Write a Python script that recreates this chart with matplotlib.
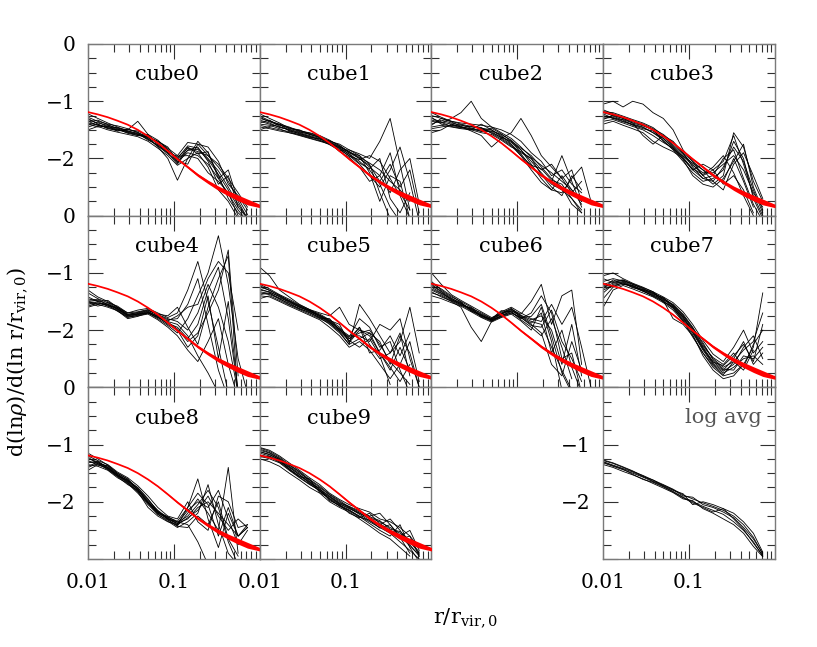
import numpy as np
import matplotlib
matplotlib.use('Agg')
import matplotlib.pyplot as plt
from matplotlib.ticker import MultipleLocator, LogLocator, NullFormatter

plt.rcParams['font.family'] = ['DejaVu Serif']
plt.rcParams['mathtext.fontset'] = 'dejavuserif'

N = None  # curve ends before this radius

R = [0.010, 0.013, 0.017, 0.022, 0.029, 0.038, 0.050, 0.065, 0.085,
     0.11, 0.145, 0.19, 0.25, 0.33, 0.43, 0.56, 0.72]

# reference (red) model slope and the half-width of its spread
RED_R = R + [1.0]
RED_SLOPE = [-1.19, -1.23, -1.28, -1.34, -1.41, -1.50, -1.61, -1.73, -1.87,
             -2.01, -2.15, -2.29, -2.41, -2.52, -2.61, -2.69, -2.76, -2.83]
RED_HALF = [0.0, 0.0, 0.0, 0.0, 0.0, 0.0, 0.004, 0.008, 0.012,
            0.016, 0.02, 0.025, 0.03, 0.038, 0.045, 0.05, 0.05, 0.03]

CUBE0 = [
    [-1.32, -1.38, -1.42, -1.47, -1.50, -1.52, -1.60, -1.72, -1.85, -2.00, -1.78, -1.82, -2.00, -2.22, -2.50, -2.80, -3.05],
    [-1.45, -1.40, -1.48, -1.50, -1.55, -1.58, -1.66, -1.78, -1.92, -2.05, -1.90, -1.95, -2.10, -2.35, -2.62, -2.90, -3.10],
    [-1.28, -1.35, -1.40, -1.43, -1.48, -1.55, -1.62, -1.70, -1.82, -1.95, -1.72, -1.75, -1.95, -2.15, -2.40, -2.70, -2.98],
    [-1.40, -1.45, -1.43, -1.52, -1.50, -1.35, -1.58, -1.75, -1.90, -2.10, -1.85, -1.80, -2.05, -2.45, -2.30, -2.85, N],
    [-1.35, -1.42, -1.46, -1.50, -1.53, -1.58, -1.63, -1.80, -2.00, -2.38, -2.00, -1.70, -1.90, -2.30, -2.70, -2.95, -3.10],
    [-1.22, -1.30, -1.38, -1.45, -1.52, -1.56, -1.68, -1.76, -1.88, -1.98, -1.82, -1.88, -1.95, -2.10, -2.35, -2.60, -2.85],
    [-1.50, -1.44, -1.50, -1.54, -1.58, -1.62, -1.70, -1.82, -1.95, -2.12, -2.00, -1.90, -2.15, -2.55, -2.75, -3.05, N],
    [-1.38, -1.42, -1.44, -1.49, -1.52, -1.57, -1.64, -1.74, -1.86, -2.02, -1.86, -1.84, -2.02, -2.28, -2.55, -2.85, -3.05],
    [-1.42, -1.36, -1.45, -1.46, -1.54, -1.60, -1.62, -1.70, -1.80, -2.05, -2.10, -1.75, -1.80, -2.05, -2.45, -2.65, -2.90],
    [-1.30, -1.40, -1.47, -1.52, -1.49, -1.54, -1.66, -1.78, -1.90, -1.96, -1.95, -2.00, -2.25, -2.40, -2.60, -3.00, N],
    [-1.36, -1.33, -1.41, -1.48, -1.56, -1.60, -1.58, -1.68, -1.84, -2.08, -1.80, -1.92, -1.88, -2.35, -2.20, -2.75, -3.05],
]
CUBE1 = [
    [-1.30, -1.35, -1.40, -1.45, -1.52, -1.55, -1.60, -1.68, -1.78, -1.88, -1.98, -2.08, -2.20, -2.40, -2.55, -2.75, N],
    [-1.40, -1.42, -1.48, -1.55, -1.58, -1.63, -1.66, -1.72, -1.82, -1.92, -2.05, -2.20, -2.45, -2.85, -3.10, N, N],
    [-1.22, -1.30, -1.38, -1.47, -1.50, -1.58, -1.62, -1.70, -1.75, -1.85, -1.92, -2.00, -1.70, -1.30, -2.10, -2.90, N],
    [-1.45, -1.48, -1.52, -1.55, -1.60, -1.65, -1.70, -1.75, -1.85, -1.95, -2.10, -2.30, -2.50, -2.20, -1.80, -2.40, -3.10],
    [-1.35, -1.40, -1.45, -1.50, -1.55, -1.60, -1.65, -1.72, -1.80, -1.88, -2.00, -2.15, -2.30, -2.60, -2.20, -2.00, -2.80],
    [-1.28, -1.36, -1.42, -1.46, -1.53, -1.58, -1.63, -1.71, -1.79, -1.90, -1.95, -2.10, -2.60, -3.05, N, N, N],
    [-1.50, -1.44, -1.40, -1.52, -1.56, -1.62, -1.66, -1.74, -1.83, -1.96, -2.02, -1.95, -2.05, -2.35, -2.65, -3.05, N],
    [-1.33, -1.38, -1.46, -1.49, -1.54, -1.57, -1.64, -1.69, -1.77, -1.90, -2.00, -2.12, -2.40, -2.10, -2.50, -2.20, -2.95],
    [-1.38, -1.33, -1.44, -1.51, -1.57, -1.61, -1.68, -1.76, -1.86, -1.85, -1.95, -2.25, -2.75, -2.30, -2.40, -3.05, N],
    [-1.26, -1.34, -1.41, -1.48, -1.51, -1.56, -1.61, -1.74, -1.81, -1.93, -2.08, -2.18, -2.00, -2.70, -2.95, -2.60, N],
    [-1.42, -1.46, -1.50, -1.53, -1.59, -1.64, -1.69, -1.73, -1.88, -1.98, -2.15, -2.40, -2.30, -1.90, -2.60, -2.90, N],
]
CUBE2 = [
    [-1.25, -1.30, -1.35, -1.38, -1.40, -1.42, -1.45, -1.55, -1.65, -1.80, -1.98, -2.12, -2.25, -2.40, -2.55, -2.80, N],
    [-1.45, -1.42, -1.45, -1.48, -1.50, -1.40, -1.50, -1.62, -1.72, -1.85, -2.05, -2.25, -2.45, -2.55, -2.70, -2.90, N],
    [-1.35, -1.38, -1.30, -1.20, -1.00, -1.30, -1.45, -1.50, -1.58, -1.70, -1.90, -2.05, -2.30, -2.20, -2.45, -2.60, N],
    [-1.55, -1.50, -1.40, -1.45, -1.52, -1.60, -1.80, -1.65, -1.55, -1.30, -1.60, -1.95, -2.15, -2.35, -2.20, -2.75, N],
    [-1.30, -1.36, -1.40, -1.45, -1.48, -1.50, -1.52, -1.58, -1.68, -1.85, -2.10, -2.35, -2.55, -2.60, -2.35, -2.15, -2.75],
    [-1.40, -1.33, -1.38, -1.42, -1.45, -1.47, -1.50, -1.60, -1.75, -1.92, -2.15, -2.30, -2.40, -1.95, -2.40, -2.85, N],
    [-1.20, -1.28, -1.35, -1.40, -1.44, -1.48, -1.55, -1.63, -1.70, -1.82, -1.95, -2.15, -2.35, -2.50, -2.80, -2.95, N],
    [-1.48, -1.45, -1.42, -1.46, -1.50, -1.55, -1.58, -1.68, -1.80, -1.88, -2.00, -2.20, -2.10, -2.35, -2.60, -2.40, N],
    [-1.33, -1.37, -1.44, -1.47, -1.43, -1.46, -1.56, -1.66, -1.78, -1.95, -2.20, -2.42, -2.55, -2.30, -2.55, -2.75, N],
    [-1.42, -1.30, -1.36, -1.44, -1.49, -1.52, -1.47, -1.57, -1.70, -1.90, -2.00, -2.28, -2.50, -2.65, -2.30, -2.55, N],
    [-1.28, -1.40, -1.43, -1.41, -1.47, -1.53, -1.53, -1.64, -1.76, -1.95, -2.12, -2.18, -2.38, -2.45, -2.70, -2.95, N],
]
CUBE3 = [
    [-1.20, -1.25, -1.30, -1.36, -1.42, -1.50, -1.62, -1.78, -1.95, -2.12, -2.25, -2.25, -2.10, -1.95, -2.20, -2.60, -2.85],
    [-1.30, -1.28, -1.35, -1.40, -1.45, -1.55, -1.68, -1.85, -2.05, -2.25, -2.40, -2.35, -2.20, -1.70, -2.00, -2.70, -3.05],
    [-1.05, -1.00, -1.10, -1.00, -1.05, -1.20, -1.30, -1.50, -1.85, -2.05, -2.30, -2.45, -2.30, -1.55, -1.80, -2.40, -2.75],
    [-1.40, -1.35, -1.42, -1.48, -1.55, -1.70, -1.80, -1.88, -2.00, -2.20, -2.10, -2.20, -2.45, -2.30, -2.55, -2.95, N],
    [-1.25, -1.30, -1.32, -1.38, -1.60, -1.75, -1.60, -1.70, -1.90, -2.05, -2.20, -2.40, -2.55, -2.10, -1.90, -2.30, -2.70],
    [-1.15, -1.22, -1.28, -1.34, -1.40, -1.48, -1.58, -1.72, -1.90, -2.15, -2.35, -2.30, -2.00, -1.85, -2.35, -2.80, -3.10],
    [-1.35, -1.32, -1.38, -1.44, -1.50, -1.60, -1.72, -1.82, -2.02, -2.30, -2.45, -2.50, -2.35, -2.05, -1.75, -2.50, -2.90],
    [-1.28, -1.26, -1.33, -1.42, -1.48, -1.52, -1.65, -1.80, -1.98, -2.18, -2.28, -2.15, -1.95, -2.25, -2.65, -3.00, N],
    [-1.22, -1.30, -1.36, -1.41, -1.46, -1.55, -1.65, -1.82, -2.00, -2.20, -2.35, -2.40, -2.15, -1.80, -2.05, -2.55, -2.95],
    [-1.32, -1.24, -1.30, -1.38, -1.43, -1.50, -1.70, -1.84, -1.96, -2.08, -2.20, -2.30, -2.40, -2.00, -2.40, -2.85, N],
    [-1.18, -1.20, -1.26, -1.32, -1.38, -1.46, -1.60, -1.76, -1.92, -2.10, -2.30, -2.20, -2.05, -1.60, -2.10, -2.65, -3.00],
]
CUBE4 = [
    [-1.50, -1.48, -1.55, -1.62, -1.75, -1.72, -1.68, -1.75, -1.85, -1.90, -2.10, -2.45, -2.75, -3.10, N, N, N],
    [-1.35, -1.45, -1.52, -1.58, -1.70, -1.65, -1.62, -1.70, -1.78, -1.70, -1.30, -0.80, -1.50, -2.30, -3.10, N, N],
    [-1.60, -1.55, -1.60, -1.66, -1.80, -1.76, -1.70, -1.80, -1.92, -2.05, -1.80, -1.40, -1.00, -0.35, -1.20, -2.50, -3.10],
    [-1.45, -1.50, -1.48, -1.60, -1.72, -1.70, -1.66, -1.72, -1.75, -1.60, -1.95, -2.25, -1.60, -1.10, -0.70, -3.20, N],
    [-1.55, -1.52, -1.58, -1.65, -1.78, -1.74, -1.70, -1.78, -1.88, -1.95, -2.15, -1.90, -1.30, -0.90, -1.80, -3.10, N],
    [-1.30, -1.42, -1.50, -1.60, -1.70, -1.68, -1.64, -1.74, -1.82, -1.80, -1.55, -1.10, -1.90, -2.70, -3.20, N, N],
    [-1.52, -1.58, -1.54, -1.64, -1.76, -1.73, -1.69, -1.76, -1.86, -1.98, -2.20, -2.05, -1.70, -1.30, -0.60, -2.80, N],
    [-1.48, -1.46, -1.56, -1.63, -1.74, -1.71, -1.67, -1.77, -1.90, -2.00, -2.30, -2.10, -1.40, -2.50, -1.50, -3.10, N],
    [-1.42, -1.50, -1.58, -1.60, -1.73, -1.69, -1.65, -1.73, -1.80, -1.85, -2.00, -1.70, -1.20, -1.60, -2.20, -3.10, N],
    [-1.58, -1.53, -1.56, -1.67, -1.77, -1.75, -1.72, -1.82, -1.95, -2.10, -2.35, -2.55, -2.20, -1.80, -2.60, -3.20, N],
    [-1.50, -1.55, -1.52, -1.62, -1.74, -1.72, -1.70, -1.78, -1.84, -1.75, -1.60, -1.55, -1.10, -0.80, -1.00, -2.00, N],
]
CUBE5 = [
    [-1.25, -1.30, -1.40, -1.48, -1.58, -1.65, -1.72, -1.82, -1.95, -2.15, -2.05, -2.00, -2.25, -2.55, -2.75, -2.95, N],
    [-1.35, -1.38, -1.45, -1.55, -1.62, -1.70, -1.78, -1.90, -2.05, -2.25, -1.55, -1.80, -2.10, -2.40, -2.20, -1.60, -2.40],
    [-0.90, -1.05, -1.30, -1.42, -1.55, -1.64, -1.70, -1.75, -1.60, -1.90, -2.00, -2.10, -2.40, -2.70, -2.30, -2.70, N],
    [-1.40, -1.42, -1.50, -1.58, -1.66, -1.74, -1.82, -1.95, -2.10, -2.30, -2.20, -2.35, -2.60, -2.85, -2.60, -2.20, -2.90],
    [-1.30, -1.33, -1.42, -1.52, -1.60, -1.68, -1.76, -1.86, -2.00, -2.12, -1.80, -1.95, -2.30, -2.20, -2.70, -3.10, N],
    [-1.20, -1.28, -1.38, -1.46, -1.56, -1.64, -1.74, -1.84, -1.98, -2.10, -2.10, -2.20, -1.90, -2.00, -1.80, -2.50, -3.00],
    [-1.45, -1.40, -1.48, -1.56, -1.64, -1.72, -1.80, -1.88, -2.02, -2.18, -2.30, -2.15, -2.45, -2.95, N, N, N],
    [-1.33, -1.36, -1.44, -1.50, -1.60, -1.66, -1.75, -1.85, -1.98, -2.20, -1.95, -2.25, -2.50, -2.40, -2.05, -2.80, N],
    [-1.28, -1.34, -1.41, -1.50, -1.59, -1.67, -1.74, -1.83, -1.90, -2.22, -2.00, -2.05, -2.20, -2.60, -2.10, -2.40, -3.00],
    [-1.38, -1.35, -1.46, -1.53, -1.63, -1.69, -1.79, -1.80, -2.00, -2.15, -1.95, -2.40, -2.35, -2.10, -2.45, -2.05, N],
    [-1.22, -1.31, -1.39, -1.49, -1.57, -1.66, -1.77, -1.87, -2.03, -2.25, -2.15, -2.05, -2.40, -2.65, -2.90, -2.60, N],
]
CUBE6 = [
    [-1.25, -1.35, -1.45, -1.52, -1.65, -1.75, -1.82, -1.70, -1.62, -1.75, -1.85, -1.90, -2.30, -2.70, -3.05, N, N],
    [-1.15, -1.30, -1.42, -1.50, -1.60, -1.72, -1.80, -1.66, -1.68, -1.80, -1.70, -1.40, -1.70, -2.50, -2.40, -3.10, N],
    [-1.35, -1.40, -1.50, -1.60, -1.95, -2.20, -1.85, -1.75, -1.70, -1.78, -1.90, -2.05, -2.60, -2.80, -2.20, -2.70, N],
    [-1.00, -1.20, -1.38, -1.48, -1.58, -1.68, -1.78, -1.72, -1.64, -1.72, -1.50, -1.20, -1.90, -1.40, -1.30, -2.60, N],
    [-1.30, -1.38, -1.48, -1.55, -1.63, -1.74, -1.84, -1.74, -1.68, -1.82, -1.95, -2.10, -1.80, -2.30, -2.85, N, N],
    [-1.40, -1.45, -1.52, -1.58, -1.68, -1.78, -1.86, -1.78, -1.72, -1.84, -2.00, -1.60, -2.20, -3.05, N, N, N],
    [-1.20, -1.32, -1.44, -1.54, -1.62, -1.70, -1.80, -1.68, -1.60, -1.70, -1.80, -1.85, -1.55, -1.90, -1.60, -2.30, -3.00],
    [-1.28, -1.36, -1.46, -1.56, -1.66, -1.76, -1.82, -1.76, -1.66, -1.76, -1.88, -1.70, -2.40, -2.00, -2.65, -3.10, N],
    [-1.22, -1.33, -1.47, -1.53, -1.64, -1.73, -1.83, -1.72, -1.66, -1.74, -1.82, -1.75, -2.00, -2.60, -1.90, -2.80, N],
    [-1.33, -1.42, -1.49, -1.57, -1.61, -1.77, -1.84, -1.77, -1.70, -1.78, -1.92, -1.95, -1.65, -2.20, -2.50, -2.90, N],
    [-1.18, -1.28, -1.40, -1.51, -1.67, -1.74, -1.81, -1.71, -1.63, -1.78, -1.76, -1.55, -2.10, -2.75, -3.10, N, N],
]
CUBE7 = [
    [-1.20, -1.15, -1.12, -1.20, -1.28, -1.35, -1.45, -1.55, -1.72, -1.95, -2.25, -2.50, -2.65, -2.55, -2.35, -2.20, -1.70],
    [-1.30, -1.22, -1.18, -1.25, -1.32, -1.40, -1.50, -1.62, -1.82, -2.05, -2.35, -2.60, -2.75, -2.65, -2.50, -2.45, -2.60],
    [-1.05, -1.00, -1.10, -1.18, -1.25, -1.33, -1.42, -1.52, -1.68, -1.90, -2.18, -2.42, -2.55, -2.30, -2.00, -2.40, -2.20],
    [-1.45, -1.25, -1.20, -1.22, -1.30, -1.38, -1.48, -1.80, -1.90, -2.10, -2.40, -2.65, -2.80, -2.75, -2.60, -2.30, -1.35],
    [-1.25, -1.18, -1.15, -1.22, -1.30, -1.36, -1.44, -1.58, -1.78, -2.00, -2.30, -2.55, -2.70, -2.50, -2.20, -2.60, -2.40],
    [-1.60, -1.30, -1.22, -1.28, -1.35, -1.42, -1.52, -1.65, -1.85, -2.08, -2.45, -2.70, -2.85, -2.80, -2.60, -2.70, N],
    [-1.15, -1.10, -1.14, -1.20, -1.26, -1.33, -1.47, -1.56, -1.75, -1.98, -2.28, -2.48, -2.60, -2.40, -2.65, -2.25, -2.00],
    [-1.35, -1.20, -1.16, -1.24, -1.32, -1.39, -1.46, -1.60, -1.80, -2.02, -2.32, -2.58, -2.72, -2.60, -2.30, -2.10, -2.50],
    [-1.10, -1.17, -1.13, -1.19, -1.27, -1.37, -1.43, -1.57, -1.74, -1.96, -2.22, -2.52, -2.68, -2.70, -2.45, -2.50, -2.30],
    [-1.28, -1.12, -1.20, -1.23, -1.31, -1.41, -1.49, -1.61, -1.84, -2.12, -2.40, -2.62, -2.78, -2.55, -2.70, -2.35, N],
    [-1.22, -1.24, -1.17, -1.26, -1.29, -1.34, -1.51, -1.59, -1.77, -2.03, -2.33, -2.56, -2.62, -2.45, -2.25, -2.55, -1.90],
]
CUBE8 = [
    [-1.25, -1.30, -1.40, -1.55, -1.62, -1.78, -1.98, -2.15, -2.28, -2.38, -2.30, -2.10, -2.00, -2.20, -2.40, -2.60, -2.45],
    [-1.35, -1.38, -1.45, -1.58, -1.68, -1.85, -2.05, -2.22, -2.32, -2.42, -2.20, -1.95, -2.20, -2.50, -1.40, -2.90, N],
    [-1.15, -1.25, -1.36, -1.50, -1.60, -1.80, -2.00, -2.18, -2.30, -2.35, -2.40, -2.70, -3.10, N, N, N, N],
    [-1.45, -1.35, -1.42, -1.54, -1.66, -1.82, -2.10, -2.25, -2.35, -2.40, -2.10, -1.60, -2.30, -2.80, -2.20, -2.60, -2.40],
    [-1.30, -1.32, -1.38, -1.52, -1.64, -1.75, -1.95, -2.18, -2.26, -2.36, -2.25, -2.05, -1.80, -2.10, -2.70, -3.10, N],
    [-1.20, -1.28, -1.35, -1.48, -1.58, -1.72, -1.90, -2.10, -2.25, -2.30, -2.00, -2.35, -2.50, -1.90, -2.00, -2.45, -2.40],
    [-1.40, -1.33, -1.44, -1.56, -1.70, -1.80, -2.02, -2.22, -2.34, -2.45, -2.35, -2.20, -1.70, -2.40, -2.90, -3.10, N],
    [-1.28, -1.36, -1.40, -1.52, -1.63, -1.78, -2.00, -2.20, -2.30, -2.38, -2.15, -2.00, -2.10, -1.80, -2.30, -2.75, -2.50],
    [-1.32, -1.29, -1.41, -1.53, -1.65, -1.79, -2.02, -2.17, -2.29, -2.40, -2.28, -2.15, -1.90, -2.25, -2.50, -2.30, -2.45],
    [-1.22, -1.34, -1.37, -1.50, -1.61, -1.76, -1.96, -2.16, -2.31, -2.43, -2.45, -2.25, -2.40, -2.00, -2.65, -2.95, N],
    [-1.38, -1.31, -1.43, -1.55, -1.67, -1.83, -2.03, -2.20, -2.27, -2.34, -2.10, -1.85, -2.05, -2.60, -2.10, -2.60, -2.45],
]
CUBE9 = [
    [-1.10, -1.15, -1.25, -1.38, -1.50, -1.62, -1.75, -1.88, -2.00, -2.10, -2.20, -2.28, -2.35, -2.45, -2.55, -2.70, -2.90],
    [-1.20, -1.25, -1.32, -1.45, -1.58, -1.70, -1.80, -1.95, -2.08, -2.15, -2.25, -2.35, -2.45, -2.55, -2.70, -2.85, -3.00],
    [-1.05, -1.10, -1.20, -1.32, -1.45, -1.58, -1.70, -1.85, -1.96, -2.05, -2.12, -2.18, -2.30, -2.35, -2.45, -2.60, -2.80],
    [-1.25, -1.30, -1.38, -1.50, -1.62, -1.75, -1.85, -2.00, -2.10, -2.18, -2.30, -2.42, -2.55, -2.65, -2.80, -2.95, N],
    [-1.15, -1.20, -1.28, -1.42, -1.55, -1.66, -1.82, -1.92, -2.04, -2.12, -2.20, -2.30, -2.40, -2.30, -2.50, -2.75, -2.95],
    [-1.08, -1.14, -1.24, -1.36, -1.48, -1.64, -1.78, -1.90, -2.02, -2.08, -2.16, -2.25, -2.20, -2.40, -2.60, -2.50, -2.85],
    [-1.18, -1.22, -1.30, -1.40, -1.52, -1.68, -1.76, -1.98, -2.06, -2.14, -2.26, -2.38, -2.50, -2.60, -2.40, -2.80, -3.05],
    [-1.12, -1.18, -1.26, -1.44, -1.56, -1.60, -1.84, -1.94, -2.05, -2.20, -2.28, -2.20, -2.38, -2.50, -2.65, -2.60, -2.95],
    [-1.13, -1.17, -1.27, -1.39, -1.53, -1.65, -1.79, -1.91, -2.03, -2.11, -2.22, -2.33, -2.42, -2.50, -2.58, -2.78, -2.92],
    [-1.22, -1.21, -1.31, -1.43, -1.57, -1.69, -1.81, -1.96, -2.07, -2.16, -2.27, -2.32, -2.46, -2.40, -2.62, -2.90, N],
    [-1.06, -1.12, -1.22, -1.35, -1.47, -1.61, -1.73, -1.87, -1.98, -2.09, -2.18, -2.26, -2.33, -2.48, -2.52, -2.68, -2.88],
]
LOGAVG = [
    [-1.28, -1.33, -1.40, -1.47, -1.54, -1.62, -1.70, -1.78, -1.88, -1.95, -2.02, -2.08, -2.15, -2.25, -2.40, -2.62, -2.92],
    [-1.32, -1.38, -1.44, -1.50, -1.57, -1.65, -1.73, -1.82, -1.92, -2.00, -2.08, -2.15, -2.22, -2.35, -2.50, -2.70, -2.95],
    [-1.30, -1.36, -1.42, -1.48, -1.56, -1.62, -1.72, -1.80, -1.86, -2.05, -2.00, -2.05, -2.12, -2.20, -2.35, -2.55, -2.88],
    [-1.35, -1.40, -1.47, -1.53, -1.60, -1.68, -1.76, -1.84, -1.95, -1.98, -2.12, -2.20, -2.30, -2.40, -2.55, -2.78, -2.96],
    [-1.27, -1.32, -1.39, -1.46, -1.55, -1.64, -1.71, -1.79, -1.90, -1.92, -2.05, -2.10, -2.18, -2.28, -2.45, -2.65, -2.90],
    [-1.31, -1.37, -1.43, -1.52, -1.61, -1.66, -1.74, -1.83, -1.93, -2.02, -2.10, -2.18, -2.12, -2.30, -2.48, -2.72, -2.94],
]

NAMES = ['cube0', 'cube1', 'cube2', 'cube3', 'cube4', 'cube5',
         'cube6', 'cube7', 'cube8', 'cube9', 'log avg']
CURVES = [CUBE0, CUBE1, CUBE2, CUBE3, CUBE4, CUBE5,
          CUBE6, CUBE7, CUBE8, CUBE9, LOGAVG]
SLOTS = [(0, 0), (0, 1), (0, 2), (0, 3), (1, 0), (1, 1),
         (1, 2), (1, 3), (2, 0), (2, 1), (2, 3)]

W, H = 817, 647
col_x = [88, 259.75, 431.5, 603.25, 775]
row_y = [44, 215.7, 387.3, 559]

fig = plt.figure(figsize=(W / 100, H / 100), dpi=100)

red_r = np.array(RED_R)
red = np.array(RED_SLOPE)
half = np.array(RED_HALF)
frame = '#7a7a7a'

for name, curves, (row, col) in zip(NAMES, CURVES, SLOTS):
    x0, x1 = col_x[col], col_x[col + 1]
    y0, y1 = row_y[row], row_y[row + 1]
    ax = fig.add_axes([x0 / W, 1 - y1 / H, (x1 - x0) / W, (y1 - y0) / H])

    for c in curves:
        ax.plot(R, np.array(c, dtype=float), color='black', lw=0.6)

    if name != 'log avg':
        ax.fill_between(red_r, red - half, red + half, color='red', lw=0, zorder=3)
        ax.plot(red_r, red, color='red', lw=1.25, zorder=3)
        ax.text(0.46, 0.82, name, transform=ax.transAxes, ha='center',
                va='center', fontsize=15)
    else:
        ax.text(0.925, 0.825, name, transform=ax.transAxes, ha='right',
                va='center', fontsize=15, color='#555555')

    ax.set_xscale('log')
    ax.set_xlim(0.01, 1)
    ax.set_ylim(-3, 0)
    ax.set_xticks([0.01, 0.1, 1])
    ax.xaxis.set_minor_locator(LogLocator(base=10, subs=range(2, 10)))
    ax.xaxis.set_minor_formatter(NullFormatter())
    ax.yaxis.set_major_locator(MultipleLocator(1))
    ax.yaxis.set_minor_locator(MultipleLocator(0.25))

    bottom_row = row == 2
    ax.set_xticklabels(['0.01', '0.1', ''])
    if col == 0:
        ax.set_yticks([0, -1, -2, -3])
        ax.set_yticklabels(['0', '\u22121', '\u22122', ''])
    elif name == 'log avg':
        ax.set_yticks([0, -1, -2, -3])
        ax.set_yticklabels(['', '\u22121', '\u22122', ''])

    ax.tick_params(which='both', direction='in', top=True, right=True,
                   color='#303030', width=0.8, labelsize=14.5,
                   labelbottom=bottom_row,
                   labelleft=(col == 0 or name == 'log avg'))
    ax.tick_params(which='major', length=10.5)
    ax.tick_params(which='minor', length=5.5)
    ax.tick_params(axis='x', pad=10)
    ax.tick_params(axis='y', pad=9)
    for s in ax.spines.values():
        s.set_color(frame)
        s.set_linewidth(1.0)

fig.text(17 / W, 1 - 362 / H, r'$\mathrm{d(ln}\rho\mathrm{)/d(ln\ r/r_{vir,0})}$',
         rotation=90, ha='center', va='center', fontsize=15)
fig.text(465 / W, 1 - 618 / H, r'$\mathrm{r/r_{vir,0}}$',
         ha='center', va='center', fontsize=15)

fig.savefig('out.png', dpi=100)
